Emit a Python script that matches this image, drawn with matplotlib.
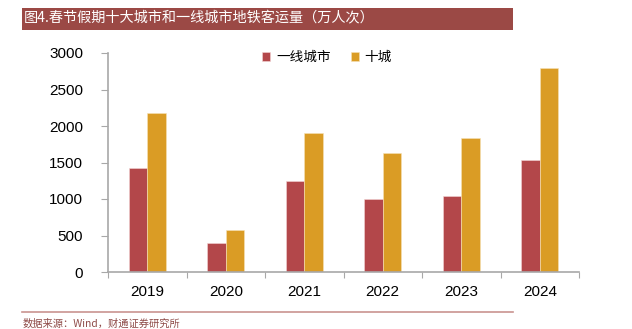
import numpy as np
import matplotlib
matplotlib.use('Agg')
import matplotlib.pyplot as plt
from matplotlib.patches import Rectangle
from matplotlib.lines import Line2D

plt.rcParams['font.family'] = ['Liberation Sans', 'Noto Sans CJK SC', 'DejaVu Sans']

years = ['2019', '2020', '2021', '2022', '2023', '2024']
first_tier = [1429, 402, 1245, 999, 1036, 1538]
ten_cities = [2176, 571, 1908, 1634, 1839, 2797]
series_names = ['一线城市', '十城']

red = '#B3474A'
gold = '#DA9C25'
grey = '#A8A8A8'

W, H = 632, 329
fig = plt.figure(figsize=(W / 100, H / 100), dpi=100)

ax = fig.add_axes([108 / W, 1 - 272 / H, (579 - 108) / W, (272 - 53) / H])
x = np.arange(len(years))
bw = 0.238
ax.bar(x - bw / 2, first_tier, bw, color=red, edgecolor='#F3D6D6', linewidth=0.4,
       label=series_names[0])
ax.bar(x + bw / 2, ten_cities, bw, color=gold, edgecolor='#F6E2B8', linewidth=0.4,
       label=series_names[1])

ax.set_xlim(-0.5, len(years) - 0.5)
ax.set_ylim(0, 3000)
ax.set_yticks(np.arange(0, 3001, 500))
ax.tick_params(axis='y', length=5, width=0.8, color=grey, pad=13, labelsize=11)

ax.set_xticks(np.arange(-0.5, len(years)), labels=[''] * (len(years) + 1))
ax.set_xticks(x, labels=years, minor=True)
ax.tick_params(axis='x', which='major', length=4, width=0.8, color=grey)
ax.tick_params(axis='x', which='minor', length=0, pad=9, labelsize=11)

for side in ['top', 'right']:
    ax.spines[side].set_visible(False)
for side in ['left', 'bottom']:
    ax.spines[side].set_color(grey)
    ax.spines[side].set_linewidth(1.2)

leg = ax.legend(loc='center', bbox_to_anchor=(327 / W, 1 - 57 / H),
                bbox_transform=fig.transFigure, ncol=2, frameon=False,
                handlelength=0.6, handleheight=0.6, handletextpad=0.4,
                columnspacing=1.5, fontsize=9.8)

# title bar
fig.patches.append(Rectangle((22 / W, 1 - 29.5 / H), (513 - 22) / W, 22 / H,
                             transform=fig.transFigure, facecolor='#9B4945',
                             edgecolor='none', zorder=0))
fig.text(24 / W, 1 - 18.5 / H, '图4.春节假期十大城市和一线城市地铁客运量（万人次）',
         color='white', fontsize=10.2, va='center', ha='left',
         family=['Noto Sans CJK SC', 'DejaVu Sans'])

# bottom rule and source
fig.lines.append(Line2D([22 / W, 513 / W], [1 - 312.3 / H] * 2,
                        transform=fig.transFigure, color='#C99490', linewidth=1.2))
fig.text(23 / W, 1 - 318.5 / H, '数据来源：Wind，财通证券研究所', color='#8E4A47',
         fontsize=7.4, va='top', ha='left',
         family=['Noto Sans CJK SC', 'DejaVu Sans'])

fig.savefig('out.png', dpi=100)
